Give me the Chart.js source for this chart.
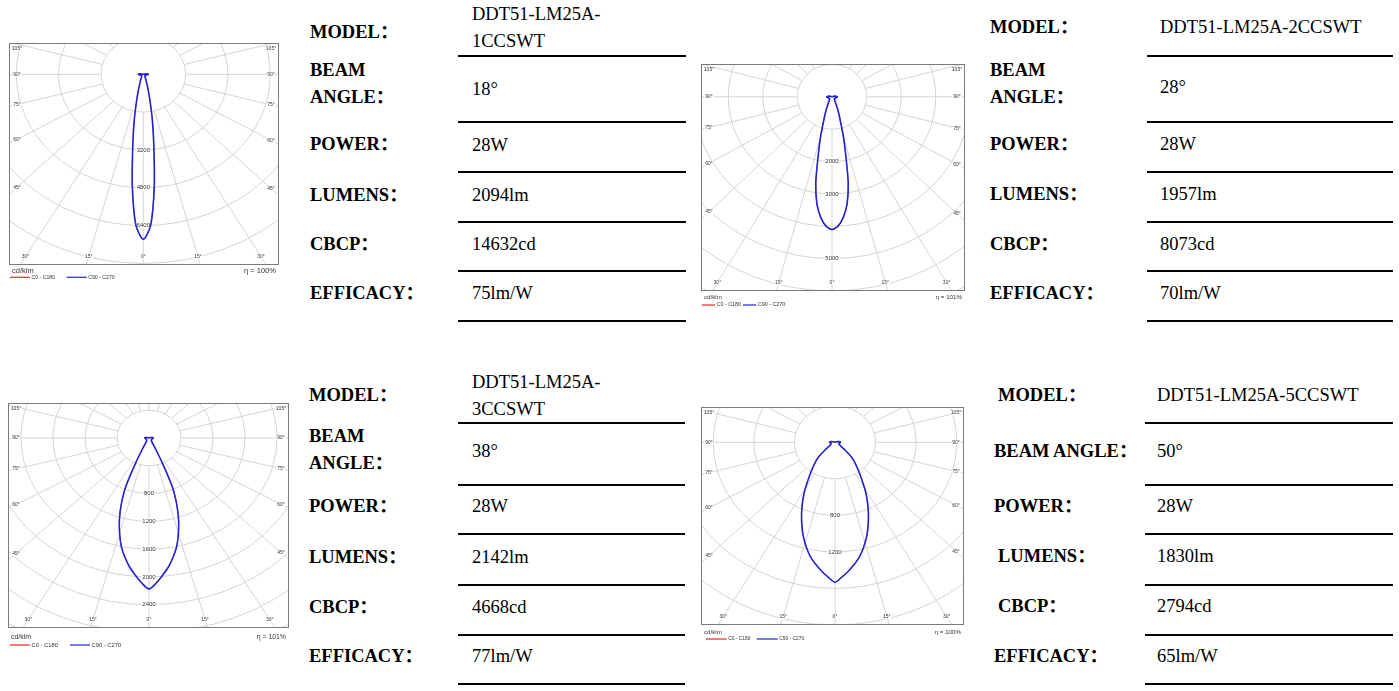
<!DOCTYPE html>
<html>
<head>
<meta charset="utf-8">
<title>DDT51-LM25A polar diagrams</title>
<script src="https://cdn.jsdelivr.net/npm/chart.js@4.4.1/dist/chart.umd.min.js"></script>
<style>
  html, body { margin: 0; padding: 0; background: #fff; }
  body { width: 1399px; height: 691px; position: relative; overflow: hidden;
         font-family: "Liberation Serif", "Noto Sans CJK SC", serif; color: #000; }
  .box { position: absolute; }
  .txt { position: absolute; font-size: 18.5px; line-height: 27px; white-space: pre; }
  .lbl { font-weight: bold; }
  .rule { position: absolute; height: 2px; background: #000; }
</style>
</head>
<body>
<script>
// gamma angles (deg from nadir) and intensities in cd/klm
const gammaDeg  = [0, 2.5, 5, 7.5, 10, 12.5, 15, 17.5, 20, 22.5, 25, 27.5, 30, 35, 40, 45, 50, 60, 70, 80, 90, 100, 110, 120];
const cd1CCSWT  = [6980, 6400, 4760, 3050, 1980, 1200, 750, 500, 350, 270, 200, 160, 130, 110, 95, 85, 80, 80, 100, 150, 190, 120, 40, 0];
const cd2CCSWT  = [4100, 4000, 3740, 3340, 2700, 1830, 1280, 840, 600, 450, 320, 240, 190, 140, 110, 100, 90, 90, 110, 130, 160, 110, 50, 0];
const cd3CCSWT  = [2175, 2090, 1980, 1870, 1740, 1600, 1420, 1230, 1010, 760, 380, 170, 90, 55, 45, 40, 40, 40, 40, 45, 55, 35, 15, 0];
const cd5CCSWT  = [1533, 1480, 1426, 1364, 1302, 1227, 1141, 1053, 957, 862, 768, 677, 587, 428, 320, 235, 120, 50, 40, 45, 55, 40, 15, 0];

const ringSteps = [1600, 1000, 400, 400];
const ringTicks1 = [3200, 4800, 6400];
const ringTicks2 = [2000, 3000, 5000];
const ringTicks3 = [800, 1200, 1600, 2000, 2400];
const ringTicks5 = [800, 1200];
const angleTicks = [-105, -90, -75, -60, -45, -30, -15, 0, 15, 30, 45, 60, 75, 90, 105];
const etaLabels = ['η = 100%', 'η = 101%', 'η = 101%', 'η = 100%'];
const planeLabels = ['C0 - C180', 'C90 - C270'];

// spec sheet text
const specLabels = ['MODEL：', 'BEAM ANGLE：', 'POWER：', 'LUMENS：', 'CBCP：', 'EFFICACY：'];
const models     = ['DDT51-LM25A-1CCSWT', 'DDT51-LM25A-2CCSWT', 'DDT51-LM25A-3CCSWT', 'DDT51-LM25A-5CCSWT'];
const beamAngles = ['18°', '28°', '38°', '50°'];
const powers     = ['28W', '28W', '28W', '28W'];
const lumens     = ['2094lm', '1957lm', '2142lm', '1830lm'];
const cbcp       = ['14632cd', '8073cd', '4668cd', '2794cd'];
const efficacy   = ['75lm/W', '70lm/W', '77lm/W', '65lm/W'];

const cdSeries = [cd1CCSWT, cd2CCSWT, cd3CCSWT, cd5CCSWT];
const ringTicks = [ringTicks1, ringTicks2, ringTicks3, ringTicks5];

// layout of the four diagrams: frame box, centre offset in frame, units per pixel (x, y)
const diagrams = [
  { frame: [9, 43, 270, 222],   centre: [134.3, 31.3], perPx: [37.8, 42.3],  legend: [1, 20, 57.7],   textDy: [5.7, 12.3], cdFont: 7.5, lgFont: 5.2 },
  { frame: [701, 64, 264, 227], centre: [131, 32.8],   perPx: [28.9, 30.9],  legend: [0.7, 13.3, 42], textDy: [6.7, 14],   cdFont: 6.2, lgFont: 5.4 },
  { frame: [8, 403, 281, 225],  centre: [141, 35],     perPx: [12.5, 14.4],  legend: [2, 20, 62],     textDy: [9, 17],     cdFont: 6.9, lgFont: 5.8 },
  { frame: [701, 407, 263, 218],centre: [134, 35.3],   perPx: [9.86, 10.95], legend: [4.7, 21, 55.7], textDy: [7.3, 14],   cdFont: 6.2, lgFont: 4.9 }
];

const tables = [
  { labelX: [310, 310, 310, 310, 310, 310], valueX: 472, rule: [458, 686], ruleY: [56, 122, 172, 222, 271, 321],
    labelY: [32.3, 84, 144, 195, 244.3, 293.3], valueY: [28.3, 89.3, 145, 195, 244.3, 293.3], wrapModel: true, wrapBeam: true },
  { labelX: [990, 990, 990, 990, 990, 990], valueX: 1160, rule: [1147, 1393], ruleY: [56, 122, 172, 222, 271, 321],
    labelY: [27.3, 83.8, 144, 194.3, 244.3, 293.3], valueY: [27.3, 87.3, 144, 194.3, 244.3, 293.3], wrapModel: false, wrapBeam: true },
  { labelX: [309, 309, 309, 309, 309, 309], valueX: 472, rule: [458, 685], ruleY: [423.3, 485, 534.3, 585, 635, 684.3],
    labelY: [395, 449.7, 506.7, 557.3, 607.3, 656], valueY: [395.8, 451.7, 506.7, 557.3, 607.3, 656], wrapModel: true, wrapBeam: true },
  { labelX: [998, 994, 994, 998, 998, 994], valueX: 1157, rule: [1145, 1393], ruleY: [423.3, 485, 534.3, 585, 635, 684.3],
    labelY: [395, 451.7, 506.7, 556.7, 606.7, 656], valueY: [395, 451.7, 506.7, 556.7, 606.7, 656], wrapModel: false, wrapBeam: false }
];

function polar(g, r) {
  const a = g * Math.PI / 180;
  return { x: r * Math.sin(a), y: -r * Math.cos(a) };
}

// C-plane outline, left half then right half, both from the same readings
function outline(cd) {
  const pts = [];
  for (let i = gammaDeg.length - 1; i >= 0; i--) pts.push(polar(-gammaDeg[i], cd[i]));
  for (let i = 1; i < gammaDeg.length; i++) pts.push(polar(gammaDeg[i], cd[i]));
  return pts;
}

function boxedText(ctx, text, x, y, h) {
  const w = ctx.measureText(text).width;
  ctx.fillStyle = '#fff';
  ctx.fillRect(x - w / 2 - 0.5, y - h / 2, w + 1, h);
  ctx.fillStyle = '#333';
  ctx.fillText(text, x, y);
}

function anglePos(a, g, xs, ys, cx, cy) {
  const rad = g * Math.PI / 180;
  const ex = xs.getPixelForValue(1000 * Math.sin(rad)) - cx;
  const ey = ys.getPixelForValue(-1000 * Math.cos(rad)) - cy;
  const left = a.left + 8, right = a.right - 8, top = a.top + 6, bottom = a.bottom - 8.5;
  if (Math.abs(ex) > 1e-6) {
    const sx = ex < 0 ? left : right;
    const py = cy + (sx - cx) / ex * ey;
    if (py <= bottom) return [sx, Math.max(top, py)];
  }
  const t = (bottom - cy) / ey;
  return [cx + t * ex, bottom];
}

const polarGrid = {
  id: 'polarGrid',
  beforeDatasetsDraw(chart, args, o) {
    const { ctx, chartArea: a, scales: { x, y } } = chart;
    const cx = x.getPixelForValue(0), cy = y.getPixelForValue(0);
    const far = Math.hypot(Math.max(-x.min, x.max), Math.max(-y.min, y.max));
    ctx.save();
    ctx.beginPath();
    ctx.rect(a.left, a.top, a.right - a.left, a.bottom - a.top);
    ctx.clip();
    ctx.strokeStyle = '#d4d4d4';
    ctx.lineWidth = 1;
    for (let r = o.step; r <= far + o.step; r += o.step) {
      ctx.beginPath();
      ctx.ellipse(cx, cy, x.getPixelForValue(r) - cx, y.getPixelForValue(-r) - cy, 0, 0, 2 * Math.PI);
      ctx.stroke();
    }
    for (let g = 0; g < 360; g += 15) {
      const p0 = polar(g, o.step), p1 = polar(g, far * 2);
      ctx.beginPath();
      ctx.moveTo(x.getPixelForValue(p0.x), y.getPixelForValue(p0.y));
      ctx.lineTo(x.getPixelForValue(p1.x), y.getPixelForValue(p1.y));
      ctx.stroke();
    }
    ctx.textAlign = 'center';
    ctx.textBaseline = 'middle';
    ctx.font = '6px "Liberation Sans"';
    o.rings.forEach(r => boxedText(ctx, String(r), cx, y.getPixelForValue(-r), 6));
    ctx.font = '5px "Liberation Sans"';
    angleTicks.forEach(g => {
      const [lx, ly] = anglePos(a, g, x, y, cx, cy);
      boxedText(ctx, Math.abs(g) + '°', lx, ly, 5);
    });
    ctx.restore();
  },
  afterDraw(chart, args, o) {
    const { ctx, chartArea: a } = chart;
    ctx.save();
    ctx.strokeStyle = '#7a7a7a';
    ctx.lineWidth = 1;
    ctx.strokeRect(a.left + 0.5, a.top + 0.5, a.right - a.left - 1, a.bottom - a.top - 1);
    ctx.fillStyle = '#333';
    ctx.textBaseline = 'middle';
    ctx.font = o.cdFont + 'px "Liberation Sans"';
    ctx.textAlign = 'left';
    ctx.fillText('cd/klm', a.left + 3, a.bottom + o.textDy[0]);
    ctx.textAlign = 'right';
    ctx.fillText(o.eta, a.right - 3, a.bottom + o.textDy[0]);
    const [lx, len, bx] = o.legend;
    const ly = a.bottom + o.textDy[1];
    ctx.font = o.lgFont + 'px "Liberation Sans"';
    ctx.textAlign = 'left';
    chart.data.datasets.forEach((ds, i) => {
      const x0 = a.left + (i === 0 ? lx : bx);
      ctx.strokeStyle = ds.borderColor;
      ctx.lineWidth = 1.2;
      ctx.beginPath();
      ctx.moveTo(x0, ly);
      ctx.lineTo(x0 + len, ly);
      ctx.stroke();
      ctx.fillStyle = '#333';
      ctx.fillText(ds.label, x0 + len + 1.5, ly);
    });
    ctx.restore();
  }
};

diagrams.forEach((d, i) => {
  const [fx, fy, fw, fh] = d.frame;
  const pad = 2, padBottom = 24;
  const box = document.createElement('div');
  box.className = 'box';
  box.style.left = (fx - pad) + 'px';
  box.style.top = (fy - pad) + 'px';
  const canvas = document.createElement('canvas');
  canvas.width = fw + pad * 2;
  canvas.height = fh + pad + padBottom;
  canvas.style.width = canvas.width + 'px';
  canvas.style.height = canvas.height + 'px';
  box.appendChild(canvas);
  document.body.appendChild(box);

  const pts = outline(cdSeries[i]);
  const [ux, uy] = d.perPx;
  new Chart(canvas, {
    type: 'scatter',
    data: {
      datasets: [
        { label: planeLabels[0], data: pts, showLine: true, borderColor: '#e8262b', borderWidth: 0.6,
          pointRadius: 0, tension: 0.25, order: 2 },
        { label: planeLabels[1], data: pts, showLine: true, borderColor: '#2323d4', borderWidth: 1.6,
          pointRadius: 0, tension: 0.25, order: 1 }
      ]
    },
    options: {
      responsive: false,
      animation: false,
      events: [],
      layout: { padding: { left: pad, top: pad, right: pad, bottom: padBottom } },
      scales: {
        x: { type: 'linear', display: false, min: -d.centre[0] * ux, max: (fw - d.centre[0]) * ux },
        y: { type: 'linear', display: false, min: -(fh - d.centre[1]) * uy, max: d.centre[1] * uy }
      },
      plugins: {
        legend: { display: false },
        tooltip: { enabled: false },
        polarGrid: { step: ringSteps[i], rings: ringTicks[i], eta: etaLabels[i], legend: d.legend,
                     textDy: d.textDy, cdFont: d.cdFont, lgFont: d.lgFont }
      }
    },
    plugins: [polarGrid]
  });
});

function addText(text, x, cy, bold) {
  const el = document.createElement('div');
  el.className = 'txt' + (bold ? ' lbl' : '');
  el.textContent = text;
  const lines = text.split('\n').length;
  el.style.left = x + 'px';
  el.style.top = (cy - lines * 27 / 2) + 'px';
  document.body.appendChild(el);
}

tables.forEach((t, i) => {
  const model = t.wrapModel ? models[i].replace('LM25A-', 'LM25A-\n') : models[i];
  const values = [model, beamAngles[i], powers[i], lumens[i], cbcp[i], efficacy[i]];
  specLabels.forEach((lab, r) => {
    const text = (r === 1 && t.wrapBeam) ? lab.replace(' ', '\n') : lab;
    addText(text, t.labelX[r], t.labelY[r], true);
    addText(values[r], t.valueX, t.valueY[r], false);
  });
  t.ruleY.forEach(yy => {
    const el = document.createElement('div');
    el.className = 'rule';
    el.style.left = t.rule[0] + 'px';
    el.style.width = (t.rule[1] - t.rule[0]) + 'px';
    el.style.top = (yy - 1) + 'px';
    document.body.appendChild(el);
  });
});
</script>
</body>
</html>
